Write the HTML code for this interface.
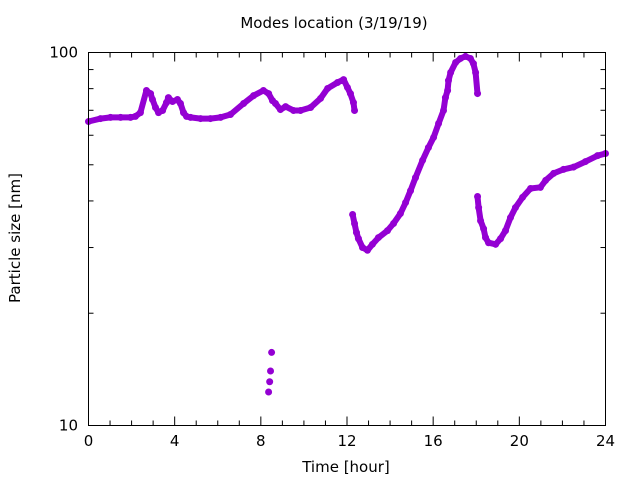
<!DOCTYPE html>
<html><head><meta charset="utf-8"><style>
html,body{margin:0;padding:0;background:#fff;width:640px;height:480px;overflow:hidden}
svg text{font-family:"DejaVu Sans","Liberation Sans",sans-serif;font-size:15px;fill:#000}
</style></head><body>
<svg id="chart" width="640" height="480" viewBox="0 0 640 480" xmlns="http://www.w3.org/2000/svg">
<text x="334" y="28" text-anchor="middle">Modes location (3/19/19)</text>
<text x="346" y="472" text-anchor="middle">Time [hour]</text>
<text transform="translate(20,238) rotate(-90)" text-anchor="middle">Particle size [nm]</text>
<g id="axes"></g>
<g id="marks"></g>
<rect x="88.5" y="52.5" width="517" height="373" fill="none" stroke="#000" stroke-width="1"/>
</svg>
<script>
const xTicks = [0, 4, 8, 12, 16, 20, 24];
const yTickLabels = ["10", "100"];
const seriesAHours = [0,0.56,1.02,1.49,1.95,2.18,2.41,2.69,2.88,2.97,3.11,3.25,3.44,3.62,3.71,3.90,4.13,4.27,4.41,4.55,4.74,5.20,5.66,6.13,6.59,7.20,7.66,8.12,8.36,8.54,8.68,8.91,9.15,9.52,9.84,10.31,10.77,11.10,11.56,11.84,12.02,12.16,12.30,12.35];
const seriesAValues = [65.3,66.5,67.0,67.0,67.0,67.4,69.0,79.1,77.6,74.8,71.2,69.0,69.9,73.4,75.7,73.9,74.8,73.0,69.0,67.4,67.0,66.5,66.5,67.0,68.2,73.0,76.6,79.1,77.6,74.3,73.0,70.3,71.6,69.9,69.9,71.2,75.3,80.1,83.1,84.6,80.6,77.6,73.4,69.9];
const seriesBHours = [12.26,12.35,12.44,12.53,12.72,12.95,13.18,13.46,13.88,14.16,14.48,14.72,14.95,15.18,15.51,15.78,16.02,16.25,16.48,16.57,16.67,16.71,16.81,17.04,17.27,17.50,17.73,17.87,17.97,18.06];
const seriesBValues = [36.8,34.8,32.9,31.7,30.0,29.5,30.6,31.9,33.3,34.8,37.0,39.6,42.6,46.2,51.4,55.6,59.2,64.5,69.9,75.7,79.1,84.1,88.4,94.0,96.4,97.6,96.4,93.4,88.4,77.6];
const seriesCHours = [18.06,18.11,18.20,18.34,18.43,18.57,18.90,19.13,19.36,19.59,19.82,20.15,20.52,20.98,21.22,21.59,22.05,22.52,23.07,23.63,24.0];
const seriesCValues = [41.1,38.4,35.4,33.7,31.9,30.9,30.6,31.7,33.3,36.1,38.4,40.9,43.2,43.5,45.4,47.4,48.6,49.3,51.0,52.9,53.6];
const seriesDHours = [8.36,8.41,8.45,8.50];
const seriesDValues = [12.3,13.1,14.0,15.7];

const NS = "http://www.w3.org/2000/svg";
const X0 = 88.5, X1 = 605.5, YT = 52.5, YB = 425.5;
function xScale(h){ return X0 + (h/24)*(X1-X0); }
function yScale(v){ return YB - (Math.log10(v)-1)*(YB-YT); }
const axes = document.getElementById('axes');
const marks = document.getElementById('marks');
function line(x1,y1,x2,y2,name){
  const l = document.createElementNS(NS,'line');
  l.setAttribute('x1',x1); l.setAttribute('y1',y1); l.setAttribute('x2',x2); l.setAttribute('y2',y2);
  l.setAttribute('stroke','#000'); l.setAttribute('stroke-width','1');
  
  
  axes.appendChild(l);
}
for (let h=0; h<=24; h++){
  const x = xScale(h); const len = (h%4===0)?9:5;
  if (h>0 && h<24){ line(x,YB,x,YB-len,'x-tick'); line(x,YT,x,YT+len,'x-tick-top'); }
}
xTicks.forEach(h=>{
  const t = document.createElementNS(NS,'text');
  t.setAttribute('x', xScale(h)); t.setAttribute('y', 446); t.setAttribute('text-anchor','middle');
  
  
  t.textContent = h; axes.appendChild(t);
});
for (let m=2; m<=9; m++){
  const y = yScale(m*10);
  line(X0,y,X0+5,y,'y-minor-tick'); line(X1,y,X1-5,y,'y-minor-tick-right');
}
yTickLabels.forEach(s=>{
  const t = document.createElementNS(NS,'text');
  t.setAttribute('x', 78); t.setAttribute('y', yScale(Number(s))+5); t.setAttribute('text-anchor','end');
  
  
  t.textContent = s; axes.appendChild(t);
});
function drawSeries(hs, vs, name){
  const pts = hs.map((h,i)=>xScale(h).toFixed(1)+','+yScale(vs[i]).toFixed(1)).join(' ');
  const pl = document.createElementNS(NS,'polyline');
  pl.setAttribute('points', pts); pl.setAttribute('fill','none');
  pl.setAttribute('stroke','#9400d3'); pl.setAttribute('stroke-width','6');
  pl.setAttribute('stroke-linejoin','round'); pl.setAttribute('stroke-linecap','round');
  
  
  marks.appendChild(pl);
  hs.forEach((h,i)=>{
    const c = document.createElementNS(NS,'circle');
    c.setAttribute('cx', xScale(h)); c.setAttribute('cy', yScale(vs[i])); c.setAttribute('r', 3.5);
    c.setAttribute('fill','#9400d3');
    
    
    marks.appendChild(c);
  });
}
drawSeries(seriesAHours, seriesAValues, 'mode-a');
drawSeries(seriesBHours, seriesBValues, 'mode-b');
drawSeries(seriesCHours, seriesCValues, 'mode-c');
seriesDHours.forEach((h,i)=>{
  const c = document.createElementNS(NS,'circle');
  c.setAttribute('cx', xScale(h)); c.setAttribute('cy', yScale(seriesDValues[i])); c.setAttribute('r', 3.5);
  c.setAttribute('fill','#9400d3');
  
  
  marks.appendChild(c);
});
</script>
</body></html>
